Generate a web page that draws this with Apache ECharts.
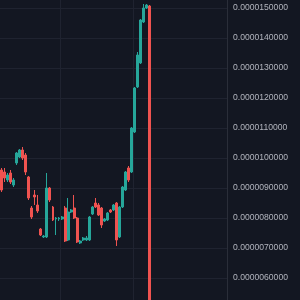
<!DOCTYPE html>
<html>
<head>
<meta charset="utf-8">
<script src="https://cdn.jsdelivr.net/npm/echarts@6/dist/echarts.min.js"></script>
<style>
html,body{margin:0;padding:0;background:#131722;}
#c{width:300px;height:300px;}
</style>
</head>
<body>
<div id="c"></div>
<script>
// Candle values (price)
const opens  = [9.60e-6,9.533e-6,9.267e-6,9.50e-6,9.10e-6,9.833e-6,10.033e-6,10.267e-6,10.10e-6,9.367e-6,
                8.333e-6,8.767e-6,8.433e-6,7.633e-6,7.367e-6,7.367e-6,9.0e-6,8.367e-6,7.967e-6,7.967e-6,
                7.967e-6,8.333e-6,7.267e-6,8.20e-6,8.333e-6,8.0e-6,7.167e-6,7.267e-6,7.267e-6,7.267e-6,
                8.133e-6,8.50e-6,8.433e-6,8.333e-6,7.90e-6,7.933e-6,8.267e-6,8.267e-6,8.50e-6,7.367e-6,
                8.367e-6,8.933e-6,9.667e-6,9.533e-6,10.867e-6,12.367e-6,13.167e-6,14.533e-6,15.0e-6,15.067e-6];
const closes = [8.933e-6,9.333e-6,9.433e-6,9.20e-6,9.267e-6,10.167e-6,10.267e-6,10.0e-6,9.533e-6,8.667e-6,
                8.033e-6,8.70e-6,8.233e-6,7.433e-6,7.40e-6,9.0e-6,8.60e-6,7.933e-6,8.0e-6,8.0e-6,
                8.033e-6,7.233e-6,8.20e-6,8.267e-6,8.0e-6,7.20e-6,7.233e-6,7.333e-6,7.333e-6,8.033e-6,
                8.367e-6,8.367e-6,8.10e-6,7.767e-6,7.967e-6,8.167e-6,8.20e-6,8.433e-6,7.267e-6,8.367e-6,
                9.033e-6,9.533e-6,9.267e-6,11.0e-6,12.333e-6,13.433e-6,14.60e-6,15.0e-6,15.10e-6,3.0e-6];
const lows   = [8.867e-6,9.20e-6,9.20e-6,9.133e-6,9.033e-6,9.767e-6,10.0e-6,9.933e-6,9.433e-6,8.60e-6,
                7.967e-6,8.433e-6,8.167e-6,7.40e-6,7.333e-6,7.333e-6,8.533e-6,7.90e-6,7.433e-6,7.90e-6,
                7.933e-6,7.20e-6,7.233e-6,8.167e-6,7.967e-6,7.167e-6,7.133e-6,7.233e-6,7.233e-6,7.233e-6,
                8.10e-6,8.333e-6,8.067e-6,7.667e-6,7.867e-6,7.90e-6,8.167e-6,8.233e-6,7.067e-6,7.333e-6,
                8.333e-6,8.90e-6,9.20e-6,9.50e-6,10.833e-6,12.333e-6,13.133e-6,14.50e-6,14.967e-6,2.9e-6];
const highs  = [9.667e-6,9.667e-6,9.50e-6,9.60e-6,9.333e-6,10.20e-6,10.30e-6,10.367e-6,10.167e-6,9.40e-6,
                8.40e-6,8.933e-6,8.767e-6,7.667e-6,7.433e-6,9.50e-6,9.033e-6,8.40e-6,8.033e-6,8.033e-6,
                8.067e-6,8.40e-6,8.667e-6,8.30e-6,8.767e-6,8.033e-6,7.267e-6,7.367e-6,7.40e-6,8.067e-6,
                8.40e-6,8.667e-6,8.50e-6,8.367e-6,8.0e-6,8.20e-6,8.30e-6,8.467e-6,8.533e-6,8.40e-6,
                9.067e-6,9.567e-6,9.733e-6,11.033e-6,12.367e-6,13.533e-6,14.633e-6,15.133e-6,15.133e-6,15.10e-6];
const totalSlots = 75;            // bars plus empty right-side space
const categories = Array.from({length: totalSlots}, (_, i) => String(i));
const yMin = 5e-6, yMax = 16e-6, yStep = 1e-6;

const candleData = opens.map((o, i) => [o, closes[i], lows[i], highs[i]]);

const chart = echarts.init(document.getElementById('c'), null, {renderer: 'canvas'});
chart.setOption({
  backgroundColor: '#131722',
  animation: false,
  grid: {left: 0, right: 73, top: -22, bottom: -8, containLabel: false, outerBoundsMode: 'none'},
  xAxis: {
    type: 'category',
    data: categories,
    boundaryGap: true,
    axisLine: {show: false},
    axisTick: {show: false},
    axisLabel: {show: false},
    splitLine: {show: true, interval: (idx) => idx === 20 || idx === 44,
                lineStyle: {color: '#1f2330', width: 1}}
  },
  yAxis: {
    type: 'value',
    position: 'right',
    min: yMin, max: yMax, interval: yStep,
    scale: true,
    axisLine: {show: true, lineStyle: {color: '#2a2e39', width: 1}},
    axisTick: {show: false},
    axisLabel: {
      color: '#b2b5be', fontSize: 8.6, fontFamily: 'Liberation Sans, Arial, sans-serif',
      margin: 6, showMaxLabel: false, showMinLabel: false,
      formatter: (v) => v.toFixed(10)
    },
    splitLine: {show: true, lineStyle: {color: '#1f2330', width: 1}}
  },
  series: [{
    type: 'candlestick',
    data: candleData,
    barWidth: '80%',
    itemStyle: {
      color: '#26a69a', color0: '#ef5350',
      borderColor: '#26a69a', borderColor0: '#ef5350', borderWidth: 1
    }
  }]
});
</script>
</body>
</html>
